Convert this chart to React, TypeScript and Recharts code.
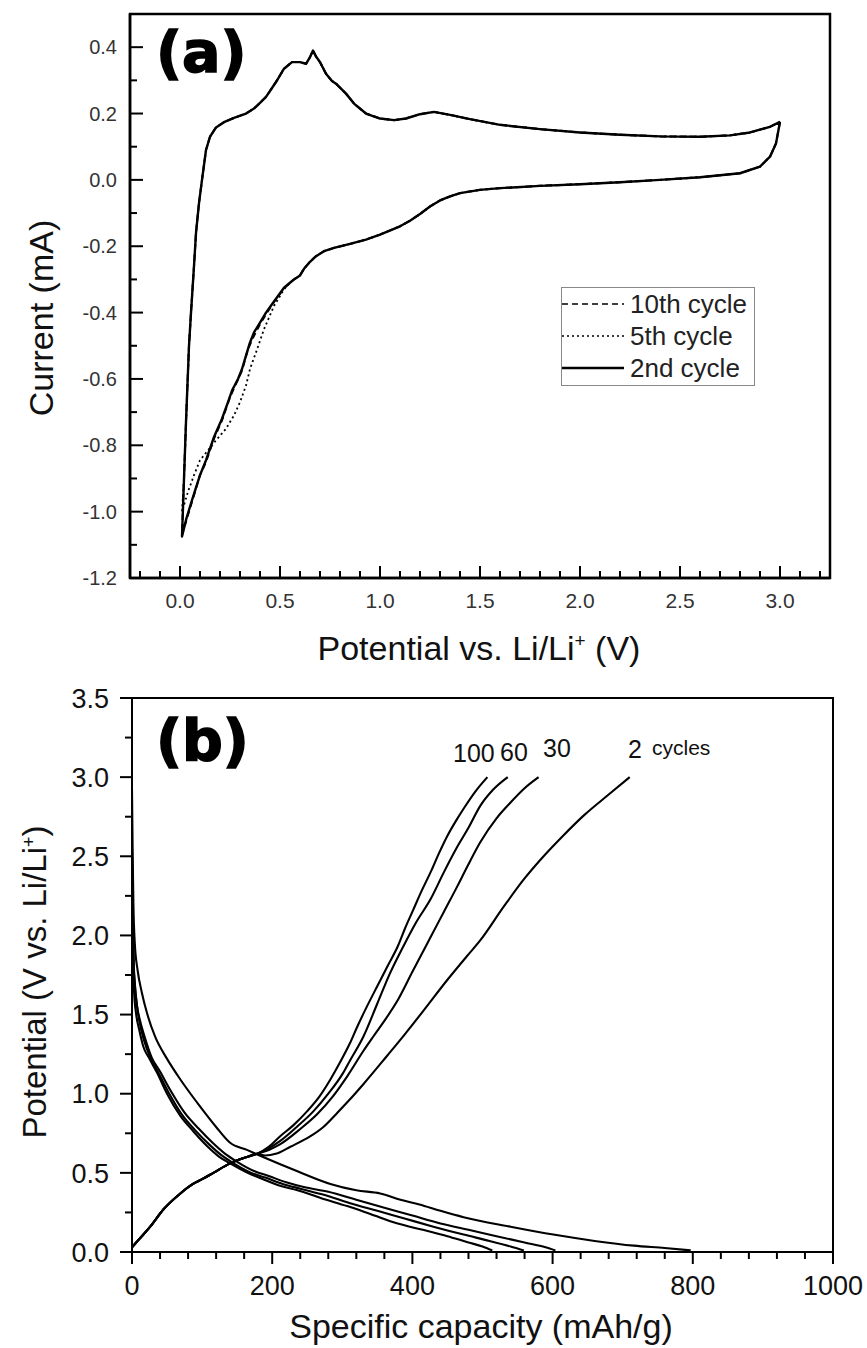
import { LineChart, Line, XAxis, YAxis, ReferenceArea, Legend } from 'recharts'

const FONT = '"Liberation Sans", Arial, Helvetica, sans-serif'

type Pt = [number, number]

// ---------- (a) cyclic voltammograms: [potential (V), current (mA)] ----------

// cathodic sweep from 3.0 V down to ~0.55 V, common to the three cycles
const cathodicHigh: Pt[] = [
  [3.0, 0.175], [2.98, 0.11], [2.95, 0.07], [2.9, 0.04], [2.8, 0.02], [2.6, 0.008],
  [2.4, 0.0], [2.2, -0.007], [2.0, -0.013], [1.8, -0.018], [1.6, -0.025], [1.5, -0.03],
  [1.4, -0.04], [1.35, -0.05], [1.3, -0.062], [1.25, -0.08], [1.2, -0.103], [1.15, -0.123],
  [1.1, -0.14], [1.0, -0.165], [0.93, -0.18], [0.85, -0.193], [0.77, -0.205], [0.72, -0.215],
  [0.68, -0.23], [0.65, -0.247], [0.62, -0.268], [0.6, -0.288], [0.57, -0.3], [0.55, -0.31],
]

const cathodicLow2: Pt[] = [
  [0.52, -0.325], [0.49, -0.35], [0.46, -0.375], [0.43, -0.4], [0.4, -0.43], [0.37, -0.46],
  [0.35, -0.49], [0.33, -0.53], [0.31, -0.57], [0.29, -0.6], [0.26, -0.635], [0.24, -0.67],
  [0.21, -0.72], [0.17, -0.775], [0.13, -0.845], [0.1, -0.89], [0.06, -0.965], [0.03, -1.025],
  [0.01, -1.075],
]

const cathodicLow5: Pt[] = [
  [0.52, -0.33], [0.47, -0.38], [0.42, -0.45], [0.38, -0.52], [0.35, -0.57], [0.33, -0.62],
  [0.3, -0.67], [0.27, -0.71], [0.23, -0.75], [0.18, -0.785], [0.14, -0.815], [0.1, -0.845],
  [0.07, -0.89], [0.04, -0.94], [0.02, -0.98], [0.01, -1.0],
]

const cathodicLow10: Pt[] = [
  [0.52, -0.327], [0.47, -0.368], [0.43, -0.405], [0.4, -0.435], [0.37, -0.47], [0.34, -0.51],
  [0.31, -0.575], [0.28, -0.615], [0.25, -0.655], [0.21, -0.725], [0.17, -0.78], [0.13, -0.85],
  [0.1, -0.89], [0.06, -0.97], [0.03, -1.03], [0.01, -1.07],
]

// anodic sweep back up to 3.0 V
const anodicSweep: Pt[] = [
  [0.02, -0.9], [0.03, -0.73], [0.045, -0.5], [0.055, -0.4], [0.07, -0.26], [0.08, -0.16],
  [0.095, -0.07], [0.11, 0.0], [0.13, 0.09], [0.15, 0.13], [0.18, 0.158], [0.22, 0.174],
  [0.27, 0.187], [0.33, 0.2], [0.37, 0.215], [0.4, 0.232], [0.43, 0.25], [0.48, 0.295],
  [0.52, 0.335], [0.56, 0.355], [0.6, 0.355], [0.63, 0.35], [0.65, 0.37], [0.665, 0.39],
  [0.68, 0.372], [0.7, 0.355], [0.73, 0.32], [0.76, 0.298], [0.78, 0.29], [0.8, 0.278],
  [0.83, 0.26], [0.87, 0.23], [0.93, 0.2], [1.0, 0.185], [1.07, 0.18], [1.13, 0.185],
  [1.2, 0.198], [1.27, 0.205], [1.35, 0.196], [1.45, 0.183], [1.6, 0.166], [1.8, 0.153],
  [2.0, 0.143], [2.2, 0.136], [2.4, 0.131], [2.6, 0.13], [2.75, 0.134], [2.85, 0.143],
  [2.95, 0.16], [3.0, 0.175],
]

const cvCycles = [
  { name: '10th cycle', points: [...cathodicHigh, ...cathodicLow10, ...anodicSweep], dash: '6 4', width: 2 },
  { name: '5th cycle', points: [...cathodicHigh, ...cathodicLow5, ...anodicSweep], dash: '2 3', width: 1.8 },
  { name: '2nd cycle', points: [...cathodicHigh, ...cathodicLow2, ...anodicSweep], dash: undefined, width: 2.4 },
]

const cvMajorX = [0, 0.5, 1.0, 1.5, 2.0, 2.5, 3.0]
const cvMajorY = [-1.2, -1.0, -0.8, -0.6, -0.4, -0.2, 0.0, 0.2, 0.4]

// ---------- (b) discharge / charge profiles: [capacity (mAh/g), potential (V)] ----------

const discharge2: Pt[] = [
  [0, 2.92], [1, 2.5], [2, 2.2], [4, 1.95], [8, 1.78], [14, 1.64], [22, 1.5], [33, 1.36],
  [50, 1.22], [69, 1.09], [97, 0.92], [120, 0.79], [140, 0.69], [164, 0.645], [187, 0.6],
  [236, 0.51], [283, 0.43], [320, 0.39], [354, 0.37], [383, 0.33], [410, 0.3], [440, 0.26],
  [473, 0.22], [540, 0.16], [601, 0.11], [660, 0.07], [716, 0.04], [760, 0.025], [797, 0.01],
]
const discharge30: Pt[] = [
  [0, 2.45], [1, 2.1], [2, 1.86], [4, 1.69], [7, 1.56], [11, 1.47], [18, 1.36], [28, 1.23],
  [40, 1.14], [55, 1.02], [75, 0.88], [95, 0.78], [115, 0.69], [133, 0.62], [150, 0.57],
  [175, 0.51], [195, 0.48], [220, 0.44], [245, 0.41], [280, 0.38], [320, 0.33], [360, 0.28],
  [400, 0.23], [440, 0.18], [480, 0.14], [520, 0.1], [560, 0.06], [590, 0.03], [604, 0.01],
]
const discharge60: Pt[] = [
  [0, 2.5], [1, 2.15], [2, 1.88], [4, 1.7], [7, 1.56], [10, 1.47], [17, 1.34], [27, 1.22],
  [38, 1.13], [52, 1.01], [71, 0.87], [90, 0.77], [110, 0.68], [128, 0.61], [145, 0.56],
  [170, 0.5], [190, 0.47], [215, 0.43], [240, 0.4], [275, 0.36], [310, 0.31], [350, 0.26],
  [390, 0.21], [430, 0.16], [473, 0.11], [510, 0.07], [540, 0.035], [559, 0.01],
]
const discharge100: Pt[] = [
  [0, 2.55], [1, 2.2], [2, 1.85], [3, 1.64], [6, 1.5], [10, 1.41], [16, 1.3], [25, 1.22],
  [36, 1.13], [50, 1.0], [69, 0.86], [88, 0.76], [107, 0.67], [125, 0.6], [140, 0.56],
  [165, 0.5], [187, 0.46], [210, 0.42], [236, 0.39], [270, 0.34], [307, 0.29], [340, 0.24],
  [379, 0.18], [415, 0.14], [450, 0.1], [480, 0.06], [500, 0.035], [514, 0.01],
]

// charge curves share the low-capacity part
const chargeStart: Pt[] = [
  [0, 0.03], [10, 0.08], [26, 0.16], [45, 0.27], [69, 0.37], [87, 0.43], [100, 0.46],
  [116, 0.5], [140, 0.56], [164, 0.6], [178, 0.62],
]
const charge2: Pt[] = [
  [190, 0.61], [205, 0.62], [226, 0.665], [254, 0.73], [273, 0.79], [293, 0.88], [310, 0.96],
  [330, 1.06], [364, 1.24], [390, 1.38], [415, 1.52], [450, 1.72], [478, 1.87], [497, 1.97],
  [530, 2.18], [560, 2.36], [583, 2.48], [615, 2.63], [645, 2.76], [680, 2.89], [710, 3.0],
]
const charge30: Pt[] = [
  [195, 0.645], [211, 0.68], [238, 0.77], [264, 0.87], [286, 0.98], [307, 1.11], [330, 1.27],
  [344, 1.36], [360, 1.46], [379, 1.59], [400, 1.77], [426, 1.99], [445, 2.15], [464, 2.31],
  [480, 2.45], [497, 2.59], [520, 2.74], [540, 2.84], [560, 2.93], [580, 3.0],
]
const charge60: Pt[] = [
  [195, 0.655], [211, 0.7], [235, 0.79], [259, 0.89], [280, 1.0], [301, 1.13], [311, 1.21],
  [330, 1.36], [350, 1.57], [368, 1.76], [387, 1.93], [405, 2.08], [426, 2.23], [445, 2.4],
  [464, 2.56], [480, 2.68], [497, 2.82], [515, 2.92], [536, 3.0],
]
const charge100: Pt[] = [
  [195, 0.665], [211, 0.73], [230, 0.8], [250, 0.89], [267, 0.98], [283, 1.09], [297, 1.2],
  [311, 1.32], [321, 1.42], [335, 1.55], [350, 1.68], [365, 1.81], [379, 1.93], [390, 2.05],
  [401, 2.16], [413, 2.28], [426, 2.4], [438, 2.52], [450, 2.63], [463, 2.73], [473, 2.8],
  [490, 2.91], [507, 3.0],
]

const gcCurves = [
  { id: 'd2', points: discharge2 },
  { id: 'd30', points: discharge30 },
  { id: 'd60', points: discharge60 },
  { id: 'd100', points: discharge100 },
  { id: 'c2', points: [...chargeStart, ...charge2] },
  { id: 'c30', points: [...chargeStart, ...charge30] },
  { id: 'c60', points: [...chargeStart, ...charge60] },
  { id: 'c100', points: [...chargeStart, ...charge100] },
]

const gcMajorX = [0, 200, 400, 600, 800, 1000]
const gcMajorY = [0, 0.5, 1.0, 1.5, 2.0, 2.5, 3.0, 3.5]

// tick positions (majors + minors) for one axis
const ticksBetween = (from: number, to: number, step: number) => {
  const out: number[] = []
  for (let v = from; v <= to + step / 2; v += step) out.push(Math.round(v * 1000) / 1000)
  return out
}

interface TickStyle {
  side: 'bottom' | 'left'
  inward: boolean
  majors: number[]
  major: number
  minor: number
  width: number
  fontSize: number
  color: string
  gap: number
  digits: number
}

// draws its own tick mark (long for majors, short for minors) plus the label
function axisTick(s: TickStyle) {
  return function Tick(props: any) {
    const { x, y, payload } = props
    const v: number = payload.value
    const isMajor = s.majors.some((m) => Math.abs(m - v) < 1e-6)
    const len = isMajor ? s.major : s.minor
    const label = v.toFixed(s.digits)
    if (s.side === 'bottom') {
      return (
        <g>
          <line x1={x} y1={y} x2={x} y2={s.inward ? y - len : y + len} stroke="#000" strokeWidth={s.width} />
          {isMajor && (
            <text x={x} y={y + s.gap} textAnchor="middle" fontSize={s.fontSize} fontFamily={FONT} fill={s.color}>
              {label}
            </text>
          )}
        </g>
      )
    }
    return (
      <g>
        <line x1={x} y1={y} x2={s.inward ? x + len : x - len} y2={y} stroke="#000" strokeWidth={s.width} />
        {isMajor && (
          <text x={x - s.gap} y={y + s.fontSize * 0.36} textAnchor="end" fontSize={s.fontSize} fontFamily={FONT} fill={s.color}>
            {label}
          </text>
        )}
      </g>
    )
  }
}

const cvTickX = axisTick({ side: 'bottom', inward: true, majors: cvMajorX, major: 12, minor: 7, width: 2, fontSize: 21, color: '#333', gap: 30, digits: 1 })
const cvTickY = axisTick({ side: 'left', inward: true, majors: cvMajorY, major: 13, minor: 7, width: 2, fontSize: 20, color: '#333', gap: 13, digits: 1 })
const gcTickX = axisTick({ side: 'bottom', inward: false, majors: gcMajorX, major: 12, minor: 7, width: 2, fontSize: 27, color: '#111', gap: 43, digits: 0 })
const gcTickY = axisTick({ side: 'left', inward: false, majors: gcMajorY, major: 12, minor: 7, width: 2, fontSize: 27, color: '#111', gap: 23, digits: 1 })

function CvLegend() {
  return (
    <div style={{ width: 194, height: 99, border: '1.5px solid #888', boxSizing: 'border-box', background: '#fff', fontFamily: FONT }}>
      {cvCycles.map((c) => (
        <div key={c.name} style={{ display: 'flex', alignItems: 'center', height: 32 }}>
          <svg width={64} height={10} style={{ display: 'block' }}>
            <line x1={0} y1={5} x2={62} y2={5} stroke="#000" strokeWidth={c.dash ? 1.6 : 2.6} strokeDasharray={c.dash} />
          </svg>
          <span style={{ fontSize: 26, marginLeft: 4, color: '#222', lineHeight: '26px' }}>{c.name}</span>
        </div>
      ))}
    </div>
  )
}

export default function App() {
  return (
    <div style={{ position: 'absolute', left: 0, top: 0, width: 867, height: 1348, background: '#fff', overflow: 'hidden' }}>
      <div style={{ position: 'absolute', left: 0, top: 0 }}>
        <LineChart width={867} height={680} margin={{ top: 14, right: 37, bottom: 42, left: 70 }}>
          <XAxis
            type="number" dataKey="v" domain={[-0.25, 3.25]} allowDataOverflow
            ticks={ticksBetween(-0.2, 3.2, 0.1)} interval={0} tickSize={0} tickMargin={0} tickLine={false}
            tick={cvTickX} axisLine={{ stroke: '#000', strokeWidth: 2.5 }} height={60}
          />
          <YAxis
            type="number" domain={[-1.2, 0.5]} allowDataOverflow
            ticks={ticksBetween(-1.2, 0.4, 0.1)} interval={0} tickSize={0} tickMargin={0} tickLine={false}
            tick={cvTickY} axisLine={{ stroke: '#000', strokeWidth: 2.5 }} width={60}
          />
          <ReferenceArea x1={-0.25} x2={3.25} y1={-1.2} y2={0.5} fill="none" stroke="#000" strokeWidth={2.5} />
          {cvCycles.map((c) => (
            <Line
              key={c.name} name={c.name} type="linear"
              data={c.points.map(([v, i]) => ({ v, i }))} dataKey="i"
              stroke="#000" strokeWidth={c.width} strokeDasharray={c.dash} strokeLinejoin="round"
              dot={false} activeDot={false} isAnimationActive={false}
            />
          ))}
          <Legend
            layout="vertical" align="center" verticalAlign="middle"
            wrapperStyle={{ left: 561, top: 287, width: 194 }} content={CvLegend}
          />
        </LineChart>
      </div>

      <div style={{ position: 'absolute', left: 0, top: 680 }}>
        <LineChart width={867} height={668} margin={{ top: 18, right: 34, bottom: 36, left: 72 }}>
          <XAxis
            type="number" dataKey="cap" domain={[0, 1000]} allowDataOverflow
            ticks={ticksBetween(0, 1000, 40)} interval={0} tickSize={0} tickMargin={0} tickLine={false}
            tick={gcTickX} axisLine={{ stroke: '#000', strokeWidth: 2 }} height={60}
          />
          <YAxis
            type="number" domain={[0, 3.5]} allowDataOverflow
            ticks={ticksBetween(0, 3.5, 0.25)} interval={0} tickSize={0} tickMargin={0} tickLine={false}
            tick={gcTickY} axisLine={{ stroke: '#000', strokeWidth: 2 }} width={60}
          />
          <ReferenceArea x1={0} x2={1000} y1={0} y2={3.5} fill="none" stroke="#000" strokeWidth={2} />
          {gcCurves.map((c) => (
            <Line
              key={c.id} type="monotone"
              data={c.points.map(([cap, volt]) => ({ cap, volt }))} dataKey="volt"
              stroke="#000" strokeWidth={2.1}
              dot={false} activeDot={false} isAnimationActive={false}
            />
          ))}
        </LineChart>
      </div>

      {/* panel letters, axis titles and cycle labels */}
      <svg width={867} height={1348} style={{ position: 'absolute', left: 0, top: 0, pointerEvents: 'none' }} fontFamily={FONT}>
        <g fontFamily='"DejaVu Sans", sans-serif' fontWeight="bold" fontSize={57} fill="#000" stroke="#000" strokeWidth={1.6}>
          <text x={156} y={72}>(a)</text>
          <text x={156} y={760}>(b)</text>
        </g>

        <g fontSize={34} fill="#111">
          <text x={479} y={660} textAnchor="middle">
            Potential vs. Li/Li
            <tspan fontSize={19} dy={-13}>+</tspan>
            <tspan dy={13}>{' (V)'}</tspan>
          </text>
          <text transform="translate(53 318) rotate(-90)" textAnchor="middle">Current (mA)</text>
          <text x={481} y={1338} textAnchor="middle">Specific capacity (mAh/g)</text>
          <text transform="translate(46 982) rotate(-90)" textAnchor="middle" fontSize={33}>
            Potential (V vs. Li/Li
            <tspan fontSize={18} dy={-11}>+</tspan>
            <tspan dy={11}>)</tspan>
          </text>
        </g>

        <g fill="#111">
          <text x={453} y={762} fontSize={25}>100</text>
          <text x={500} y={761} fontSize={25}>60</text>
          <text x={543} y={757} fontSize={25}>30</text>
          <text x={628} y={758} fontSize={25}>2</text>
          <text x={652} y={755} fontSize={21}>cycles</text>
        </g>
      </svg>
    </div>
  )
}
